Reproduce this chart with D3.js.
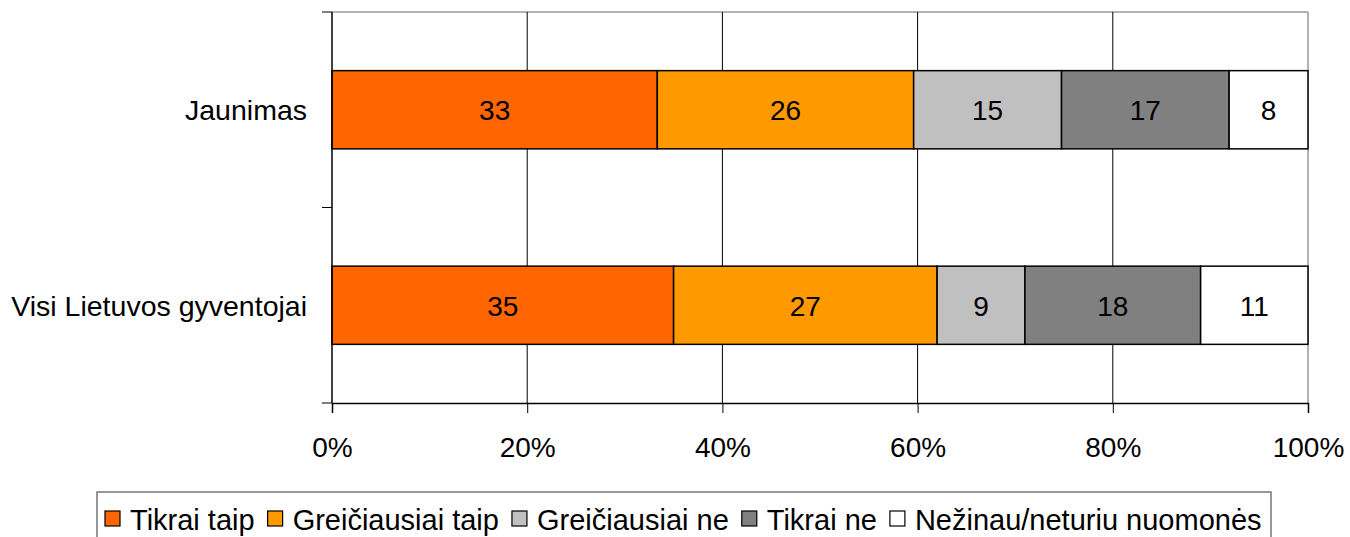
<!DOCTYPE html>
<html>
<head>
<meta charset="utf-8">
<script src="https://cdn.jsdelivr.net/npm/d3@7"></script>
<style>
  body { margin: 0; background: #fff; }
  text { font-family: "Liberation Sans", Arial, sans-serif; }
</style>
</head>
<body>
<div id="chart"></div>
<script>
// data
const groups = ["Jaunimas", "Visi Lietuvos gyventojai"];
const answers = ["Tikrai taip", "Greičiausiai taip", "Greičiausiai ne", "Tikrai ne", "Nežinau/neturiu nuomonės"];
const jaunimas = [33, 26, 15, 17, 8];
const visi = [35, 27, 9, 18, 11];
const colors = ["#ff6600", "#ff9900", "#c0c0c0", "#808080", "#ffffff"];
const tickLabels = ["0%", "20%", "40%", "60%", "80%", "100%"];

const width = 1350, height = 537;
const margin = {left: 332, right: 42, top: 12, bottom: 134};

const svg = d3.select("#chart").append("svg")
  .attr("width", width).attr("height", height);

const x = d3.scaleLinear().domain([0, 1]).range([margin.left, width - margin.right]);
const y = d3.scaleBand().domain(groups).range([margin.top, height - margin.bottom]).paddingInner(0.6).paddingOuter(0.3);

// rows with shares (100% stacked)
const rows = [jaunimas, visi].map(function(vals, i) {
  const total = d3.sum(vals);
  let acc = 0;
  return vals.map(function(v, j) {
    const s = {group: groups[i], value: v, x0: acc / total, x1: (acc + v) / total, k: j};
    acc += v;
    return s;
  });
});

// grey frame top/right
svg.append("line").attr("x1", x(0)).attr("x2", x(1)).attr("y1", margin.top).attr("y2", margin.top)
  .attr("stroke", "#999").attr("stroke-width", 1.5);
svg.append("line").attr("x1", x(1)).attr("x2", x(1)).attr("y1", margin.top).attr("y2", height - margin.bottom)
  .attr("stroke", "#999").attr("stroke-width", 1.5);

// gridlines
svg.append("g").selectAll("line").data([0.2, 0.4, 0.6, 0.8]).enter().append("line")
  .attr("x1", d => x(d)).attr("x2", d => x(d))
  .attr("y1", margin.top).attr("y2", height - margin.bottom)
  .attr("stroke", "#000").attr("stroke-width", 1);

// bars
const seg = svg.append("g").selectAll("g").data(rows.flat()).enter().append("g");
seg.append("rect")
  .attr("x", d => x(d.x0)).attr("width", d => x(d.x1) - x(d.x0))
  .attr("y", d => y(d.group)).attr("height", y.bandwidth())
  .attr("fill", d => colors[d.k]).attr("stroke", "#000").attr("stroke-width", 1.5);
seg.append("text")
  .attr("x", d => (x(d.x0) + x(d.x1)) / 2).attr("y", d => y(d.group) + y.bandwidth() / 2 + 10.5)
  .attr("text-anchor", "middle").attr("font-size", 28).attr("fill", "#000")
  .text(d => d.value);

// x axis
const xAxis = d3.axisBottom(x).tickValues([0, 0.2, 0.4, 0.6, 0.8, 1])
  .tickFormat((d, i) => tickLabels[i]).tickSize(10).tickPadding(24);
const gx = svg.append("g").attr("transform", "translate(0," + (height - margin.bottom) + ")").call(xAxis);
gx.select(".domain").attr("stroke", "#000").attr("stroke-width", 1.5);
gx.selectAll(".tick line").attr("stroke", "#000");
gx.selectAll("text").attr("font-size", 28).attr("font-family", "Liberation Sans, Arial, sans-serif").attr("fill", "#000");

// y axis
svg.append("line").attr("x1", x(0)).attr("x2", x(0)).attr("y1", margin.top).attr("y2", height - margin.bottom)
  .attr("stroke", "#000").attr("stroke-width", 1.5);
const yTicks = [margin.top, (margin.top + height - margin.bottom) / 2, height - margin.bottom];
svg.append("g").selectAll("line").data(yTicks).enter().append("line")
  .attr("x1", x(0) - 10).attr("x2", x(0)).attr("y1", d => d).attr("y2", d => d)
  .attr("stroke", "#000").attr("stroke-width", 1);
svg.append("g").selectAll("text").data(groups).enter().append("text")
  .attr("x", 307).attr("y", d => y(d) + y.bandwidth() / 2 + 10.5)
  .attr("text-anchor", "end").attr("font-size", 28.5).attr("fill", "#000")
  .text(d => d);

// legend
svg.append("rect").attr("x", 97).attr("y", 492).attr("width", 1174).attr("height", 60)
  .attr("fill", "#fff").attr("stroke", "#777").attr("stroke-width", 1.5);
const leg = svg.append("g").attr("font-size", 29);
let lx = 105;
answers.forEach(function(a, i) {
  leg.append("rect").attr("x", lx).attr("y", 511).attr("width", 15).attr("height", 15)
    .attr("fill", colors[i]).attr("stroke", "#000").attr("stroke-width", 1.2);
  const t = leg.append("text").attr("x", lx + 25).attr("y", 530).attr("fill", "#000").text(a);
  lx += 25 + t.node().getComputedTextLength() + 13;
});
</script>
</body>
</html>
